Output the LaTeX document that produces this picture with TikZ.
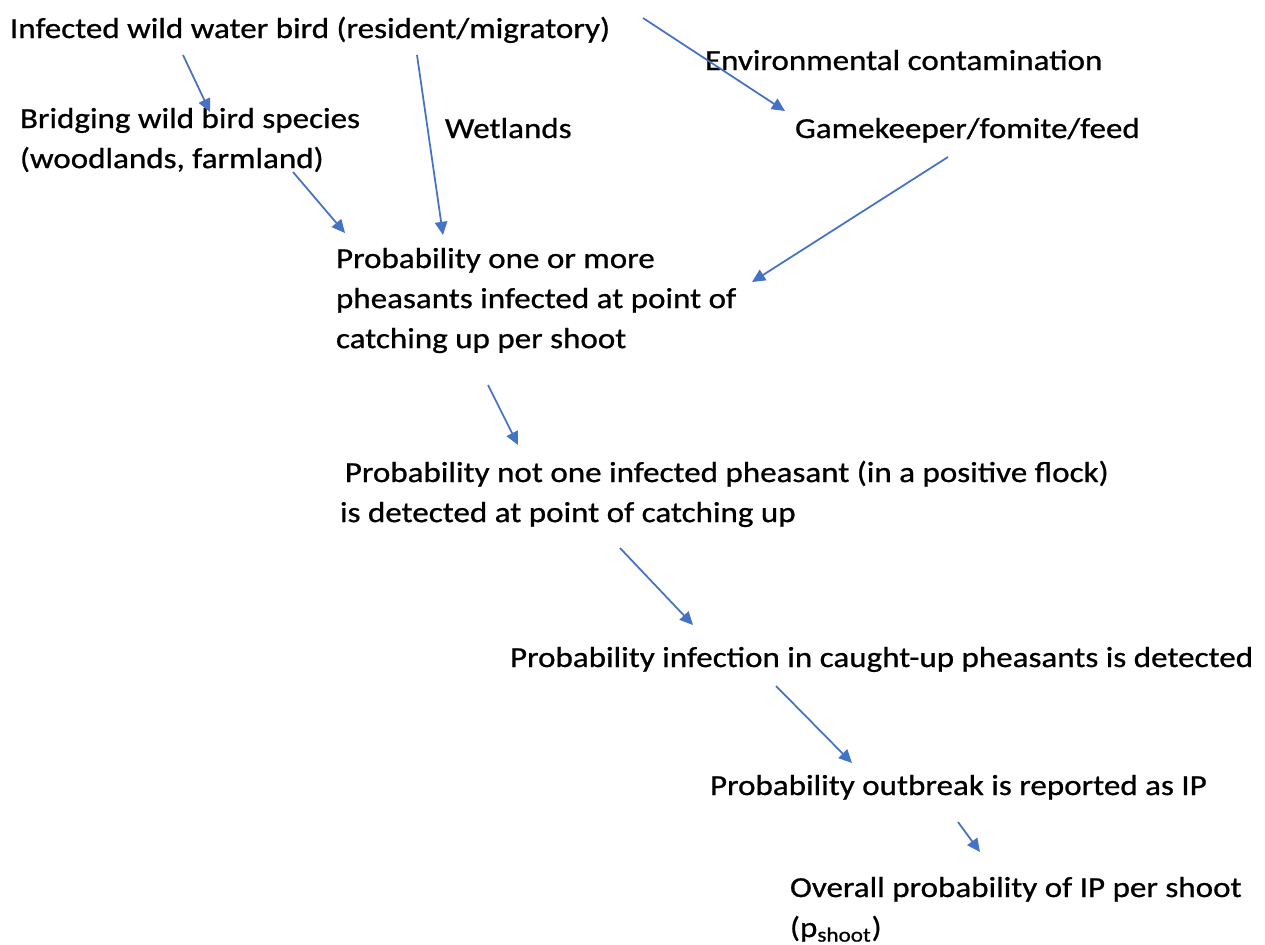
\documentclass[tikz,border=0pt]{standalone}
\usepackage{fontspec}
\setmainfont{Carlito}[FakeStretch=1.14, FakeBold=0.8]
\usetikzlibrary{arrows.meta}
\definecolor{arrowblue}{HTML}{4472C4}
\newcommand{\mlines}[1]{\begin{tabular}[t]{@{}l@{}}#1\end{tabular}}
\tikzset{
  lbl/.style={anchor=base west, inner sep=0pt, outer sep=0pt, font=\fontsize{16.5pt}{22.8pt}\selectfont, text=black},
  flow/.style={draw=arrowblue, line width=1pt, -{Triangle[length=7.5pt,width=7pt]}}
}
\begin{document}
\begin{tikzpicture}[x=0.02cm, y=-0.02cm]
\useasboundingbox (0,0) rectangle (1265,944);
\renewcommand{\arraystretch}{1}
\node[lbl] (inf) at (10,38) {Infected wild water bird (resident/migratory)};
\node[lbl] (env) at (705,70) {Environmental contamination};
\node[lbl] (bri) at (20,128) {\mlines{Bridging wild bird species\\(woodlands, farmland)}};
\node[lbl] (wet) at (445,138) {Wetlands};
\node[lbl] (gam) at (795,138) {Gamekeeper/fomite/feed};
\node[lbl] (p1) at (336,268) {\mlines{Probability one or more\\pheasants infected at point of\\catching up per shoot}};
\node[lbl] (p2) at (340,482) {\mlines{\,Probability not one infected pheasant (in a positive flock)\\is detected at point of catching up}};
\node[lbl] (p3) at (510,667) {Probability infection in caught-up pheasants is detected};
\node[lbl] (p4) at (710,795) {Probability outbreak is reported as IP};
\node[lbl] (p5) at (790,897) {\mlines{Overall probability of IP per shoot\\(p\textsubscript{shoot})}};

\draw[flow] ([shift={(173,17)}]inf.base west) -- ([shift={(190,-16)}]bri.base west);
\draw[flow] ([shift={(407,17)}]inf.base west) -- ([shift={(107,-33)}]p1.base west);
\draw[flow] ([shift={(633,-20)}]inf.base west) -- ([shift={(-10,-27)}]gam.base west);
\draw[flow] ([shift={(273,44)}]bri.base west) -- ([shift={(9,-35)}]p1.base west);
\draw[flow] ([shift={(153,19)}]gam.base west) -- ([shift={(416,14)}]p1.base west);
\draw[flow] ([shift={(152,117)}]p1.base west) -- ([shift={(178,-37)}]p2.base west);
\draw[flow] ([shift={(280,66)}]p2.base west) -- ([shift={(183,-42)}]p3.base west);
\draw[flow] ([shift={(266,19)}]p3.base west) -- ([shift={(142,-32)}]p4.base west);
\draw[flow] ([shift={(248,27)}]p4.base west) -- ([shift={(190,-45)}]p5.base west);
\end{tikzpicture}
\end{document}
